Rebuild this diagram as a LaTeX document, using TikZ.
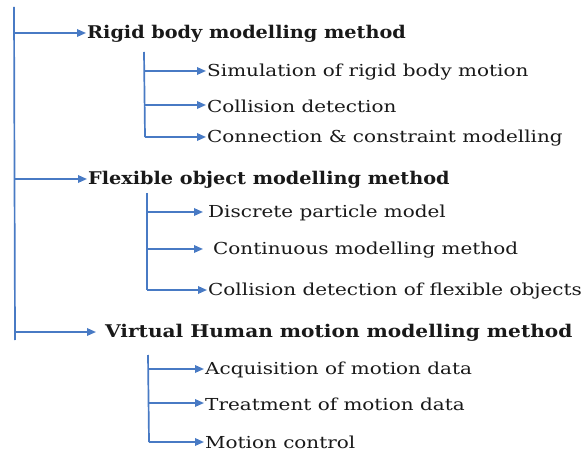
\documentclass[tikz,border=0pt]{standalone}
\usepackage{fontspec}
\setmainfont{DejaVu Serif}
\newfontfamily\itemfont[FakeStretch=1.21]{DejaVu Serif}
\newfontfamily\headfont[FakeStretch=1.1]{DejaVu Serif}
\newfontfamily\headfontw[FakeStretch=1.15]{DejaVu Serif}
\usetikzlibrary{arrows.meta}
\definecolor{lineblue}{RGB}{72,122,196}
\definecolor{txt}{RGB}{25,25,25}
\tikzset{
  conn/.style={draw=lineblue, line width=1.7bp},
  arr/.style={conn, -{Triangle[length=9bp,width=7.5bp]}},
  head/.style={anchor=west, inner sep=1bp, text=txt, font=\headfont\fontsize{17.5bp}{20bp}\selectfont\bfseries},
  headw/.style={head, font=\headfontw\fontsize{17.5bp}{20bp}\selectfont\bfseries},
  item/.style={anchor=west, inner sep=1bp, text=txt, font=\itemfont\fontsize{16.5bp}{19bp}\selectfont},
}
\begin{document}
\begin{tikzpicture}[x=1bp,y=-1bp]
\useasboundingbox (0,0) rectangle (585,451);
% main trunk
\coordinate (t0) at (14,7);
\coordinate (t1) at (15,340);
\draw[conn] (t0) -- (t1);
% heads
\node[head] (h1) at (86,34) {Rigid body modelling method};
\node[head] (h2) at (87,180) {Flexible object modelling method};
\node[headw] (h3) at (104,333) {Virtual Human motion modelling method};
\coordinate (b1) at (14,33);
\coordinate (b2) at (14.5,179);
\coordinate (b3) at (15,332);
\draw[arr] (b1) -- (h1.west |- b1);
\draw[arr] (b2) -- (h2.west |- b2);
\draw[arr,shorten >=8bp] (b3) -- (h3.west |- b3);
% group 1
\coordinate (s1a) at (144,52);
\coordinate (s1e) at (145,137);
\draw[conn] (s1a) -- (s1e);
\node[item] (i11) at (206,72) {Simulation of rigid body motion};
\node[item] (i12) at (206,106) {Collision detection};
\node[item] (i13) at (206,138) {Connection \& constraint modelling};
\draw[arr] (144.3,71) -- (i11.west |- 0,71);
\draw[arr] (144.7,105) -- (i12.west |- 0,105);
\draw[arr] (s1e) -- (i13.west |- s1e);
% group 2
\coordinate (s2a) at (147,193);
\coordinate (s2e) at (147,290);
\draw[conn] (s2a) -- (s2e);
\node[item] (i21) at (207,213) {Discrete particle model};
\node[item] (i22) at (212,250) {Continuous modelling method};
\node[item] (i23) at (207,291) {Collision detection of flexible objects};
\draw[arr,shorten >=4bp] (147,212) -- (i21.west |- 0,212);
\draw[arr,shorten >=9bp] (147,249) -- (i22.west |- 0,249);
\draw[arr] (s2e) -- (i23.west |- s2e);
% group 3
\coordinate (s3a) at (148,355);
\coordinate (s3e) at (149,442);
\draw[conn] (s3a) -- (s3e);
\node[item] (i31) at (204,370) {Acquisition of motion data};
\node[item] (i32) at (204,404) {Treatment of motion data};
\node[item] (i33) at (204,442) {Motion control};
\draw[arr] (148.3,369) -- (i31.west |- 0,369);
\draw[arr] (148.6,403) -- (i32.west |- 0,403);
\draw[arr] (s3e) -- (i33.west |- s3e);
\end{tikzpicture}
\end{document}
